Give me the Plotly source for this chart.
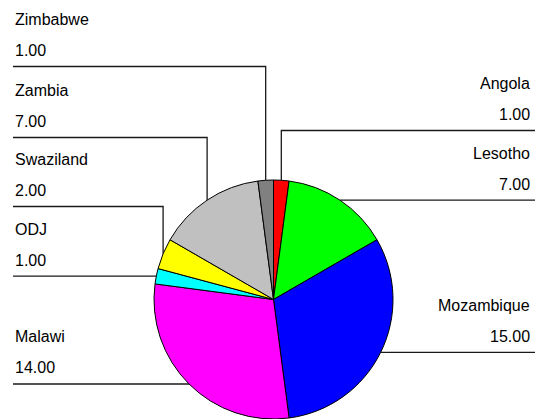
import math
import plotly.graph_objects as go

# Regional counts, in drawing order (clockwise from 12 o'clock)
countries = ["Angola", "Lesotho", "Mozambique", "Malawi", "ODJ", "Swaziland", "Zambia", "Zimbabwe"]
counts = [1, 7, 15, 14, 1, 2, 7, 1]
colors = ["#ff0000", "#00ff00", "#0000ff", "#ff00ff", "#00ffff", "#ffff00", "#c0c0c0", "#808080"]

W, H = 537, 419
# Pie placement in pixels (left, right, top, bottom)
PIE_L, PIE_R, PIE_T, PIE_B = 154, 393, 180, 419

# Label callout layout: side and y of the underline (None = level with the slice edge)
label_side = {"Angola": "right", "Lesotho": "right", "Mozambique": "right",
              "Malawi": "left", "ODJ": "left", "Swaziland": "left",
              "Zambia": "left", "Zimbabwe": "left"}
label_line_y = {"Angola": 130.5, "Lesotho": None, "Mozambique": None,
                "Malawi": None, "ODJ": None, "Swaziland": 206.5,
                "Zambia": 137.5, "Zimbabwe": 66.5}
LEFT_X, RIGHT_X = 13, 535
FONT = dict(family="Liberation Sans, Arial, sans-serif", size=16, color="#000000")


def px(x):
    return x / W


def py(y):
    return 1 - y / H


fig = go.Figure(go.Pie(
    labels=countries,
    values=counts,
    sort=False,
    direction="clockwise",
    rotation=0,
    marker=dict(colors=colors, line=dict(color="#000000", width=1)),
    textinfo="none",
    hoverinfo="label+value",
    showlegend=False,
    domain=dict(x=[px(PIE_L), px(PIE_R)], y=[py(PIE_B), py(PIE_T)]),
))

cx = (PIE_L + PIE_R) / 2
cy = (PIE_T + PIE_B) / 2
r = min(PIE_R - PIE_L, PIE_B - PIE_T) / 2
total = sum(counts)

shapes = []
annotations = []
start = 0.0
for name, val in zip(countries, counts):
    frac = val / total
    mid = (start + frac / 2) * 2 * math.pi
    start += frac
    ex = cx + r * math.sin(mid)
    ey = cy - r * math.cos(mid)
    ly = label_line_y[name] if label_line_y[name] is not None else ey
    side = label_side[name]
    outer = LEFT_X if side == "left" else RIGHT_X
    path = f"M {px(ex)},{py(ey)} L {px(ex)},{py(ly)} L {px(outer)},{py(ly)}"
    shapes.append(dict(type="path", path=path, xref="paper", yref="paper",
                       line=dict(color="#1a1a1a", width=1.3)))
    if side == "left":
        tx, anchor = LEFT_X, "left"
    else:
        tx, anchor = RIGHT_X - 3, "right"
    annotations.append(dict(text=name, x=px(tx), y=py(ly - 47), xref="paper", yref="paper",
                            xanchor=anchor, yanchor="middle", showarrow=False, font=FONT))
    annotations.append(dict(text=f"{val:.2f}", x=px(tx), y=py(ly - 16), xref="paper", yref="paper",
                            xanchor=anchor, yanchor="middle", showarrow=False, font=FONT))

fig.update_layout(
    width=W, height=H,
    margin=dict(l=0, r=0, t=0, b=0),
    paper_bgcolor="#ffffff",
    plot_bgcolor="#ffffff",
    shapes=shapes,
    annotations=annotations,
)

fig.write_html("out.html")
